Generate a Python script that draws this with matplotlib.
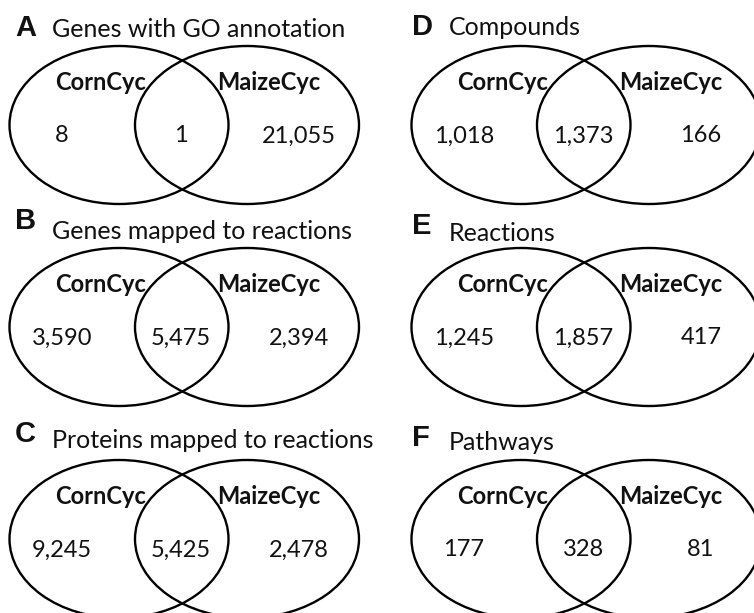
import matplotlib
matplotlib.use("Agg")
import matplotlib.pyplot as plt
from matplotlib.patches import Ellipse

# ---- data ----
letters = ["A", "B", "C", "D", "E", "F"]
titles = ["Genes with GO annotation", "Genes mapped to reactions",
          "Proteins mapped to reactions", "Compounds", "Reactions", "Pathways"]
set_names = ["CornCyc", "MaizeCyc"]
only_corncyc = [8, 3590, 9245, 1018, 1245, 177]
shared = [1, 5475, 5425, 1373, 1857, 328]
only_maizecyc = [21055, 2394, 2478, 166, 417, 81]

# ---- layout (pixel space) ----
W, H = 754, 613
fig = plt.figure(figsize=(W / 100, H / 100), dpi=100)
ax = fig.add_axes([0, 0, 1, 1])
ax.set_xlim(0, W)
ax.set_ylim(H, 0)
ax.axis("off")

col_dx = [0, 402]
row_dy = [0, 202, 414]
letter_x = [15, 412]
text_x = [52, 449]
letter_base = [[36, 229, 442], [35, 234, 446]]
text_base = [[37, 239, 448], [35, 241, 450]]

FONT = "Lato"
LETTER_FONT = "Liberation Sans"
INK = "#111111"

for i in range(6):
    col, row = divmod(i, 3)
    dx, dy = col_dx[col], row_dy[row]
    cy = 125 + dy
    # ellipses
    ax.add_patch(Ellipse((119 + dx, cy), 219, 158, fill=False, ec="black", lw=1.7))
    ax.add_patch(Ellipse((247 + dx, cy), 224, 158, fill=False, ec="black", lw=1.7))
    # title
    ax.text(letter_x[col], letter_base[col][row], letters[i], family=LETTER_FONT,
            fontweight="bold", fontsize=21, va="baseline", ha="left", color=INK)
    ax.text(text_x[col], text_base[col][row], titles[i], family=FONT,
            fontsize=18, va="baseline", ha="left", color=INK)
    # set names
    ax.text(101 + dx, cy - 43, set_names[0], family=FONT, fontweight="bold",
            fontsize=17, ha="center", va="center", color=INK)
    ax.text(269 + dx, cy - 43, set_names[1], family=FONT, fontweight="bold",
            fontsize=17, ha="center", va="center", color=INK)
    # counts
    ax.text(62 + dx, cy + 11, f"{only_corncyc[i]:,}", family=FONT,
            fontsize=17, ha="center", va="center", color=INK)
    ax.text(181 + dx, cy + 11, f"{shared[i]:,}", family=FONT,
            fontsize=17, ha="center", va="center", color=INK)
    ax.text(299 + dx, cy + 11, f"{only_maizecyc[i]:,}", family=FONT,
            fontsize=17, ha="center", va="center", color=INK)

fig.savefig("out.png", dpi=100)
